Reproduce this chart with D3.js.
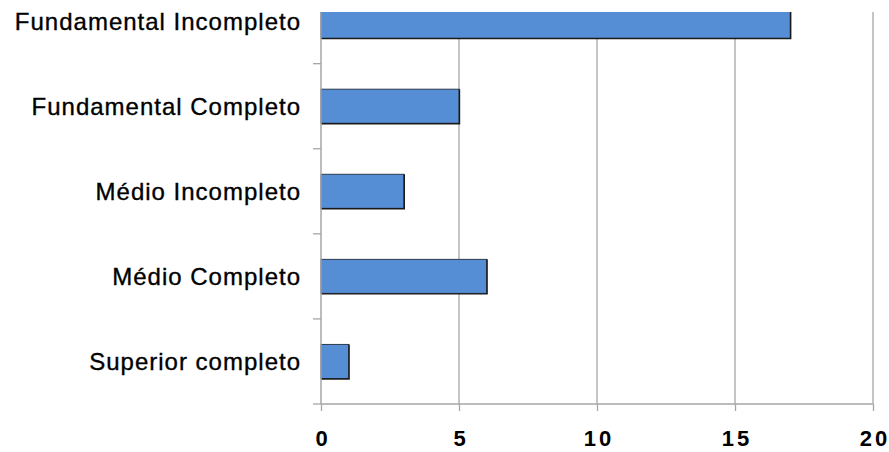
<!DOCTYPE html>
<html>
<head>
<meta charset="utf-8">
<script src="https://cdn.jsdelivr.net/npm/d3@7"></script>
<style>
html,body{margin:0;padding:0;background:#fff;}
svg{display:block;}
</style>
</head>
<body>
<script>
const categories = ["Fundamental Incompleto","Fundamental Completo","Médio Incompleto","Médio Completo","Superior completo"];
const values = [17,5,3,6,1];
const xTicks = [0,5,10,15,20];

const W = 889, H = 452;
const svg = d3.select("body").append("svg").attr("width",W).attr("height",H);

const x = d3.scaleLinear().domain([0,20]).range([321,873]);
const y = d3.scaleBand().domain(categories).range([-21.4,404]).padding(0);
const barH = y.step()*0.4;

svg.append("defs").append("clipPath").attr("id","plotclip")
  .append("rect").attr("x",0).attr("y",12).attr("width",W).attr("height",H-12);

const plot = svg.append("g").attr("clip-path","url(#plotclip)");
const gridColor = "#a6a6a6";

// gridlines
plot.selectAll("line.grid").data(xTicks.slice(1)).join("line")
  .attr("class","grid")
  .attr("x1",d=>x(d)).attr("x2",d=>x(d))
  .attr("y1",-21.4).attr("y2",404)
  .attr("stroke",gridColor).attr("stroke-width",1.3);

// bars
const bars = plot.selectAll("g.bar").data(categories).join("g").attr("class","bar");
bars.append("rect")
  .attr("x",x(0))
  .attr("y",(d)=>y(d)+y.bandwidth()/2-barH/2)
  .attr("width",(d,i)=>x(values[i])-x(0))
  .attr("height",barH)
  .attr("fill","#558ed5")
  .attr("stroke","#2c3a4e").attr("stroke-width",1);
bars.append("path")
  .attr("d",(d,i)=>{
    const x1 = x(values[i])+0.5, y0 = y(d)+y.bandwidth()/2-barH/2, y1 = y0+barH+0.5;
    return `M${x(0)},${y1}H${x1}V${y0}`;
  })
  .attr("fill","none").attr("stroke","#1a1a1a").attr("stroke-width",1.4);

// y axis
const yAxis = d3.axisLeft(y).tickSize(8).tickFormat("");
const yg = plot.append("g").attr("transform",`translate(${x(0)},0)`).call(yAxis);
yg.select(".domain").remove();
yg.selectAll(".tick").attr("transform",d=>`translate(0,${y(d)})`);
yg.selectAll(".tick line").attr("stroke",gridColor).attr("stroke-width",1.3);
yg.append("line").attr("x1",0).attr("x2",0).attr("y1",-21.4).attr("y2",404)
  .attr("stroke",gridColor).attr("stroke-width",1.5);
yg.append("line").attr("x1",-8).attr("x2",0).attr("y1",404).attr("y2",404)
  .attr("stroke",gridColor).attr("stroke-width",1.3);

// category labels
svg.append("g").selectAll("text").data(categories).join("text")
  .attr("x",301)
  .attr("y",d=>y(d)+y.bandwidth()/2)
  .attr("dy","0.35em")
  .attr("text-anchor","end")
  .attr("font-family","Liberation Sans, Arial, sans-serif")
  .attr("font-size",24)
  .attr("letter-spacing","1px")
  .attr("stroke","#000").attr("stroke-width",0.35)
  .attr("fill","#000")
  .text(d=>d);

// x axis
const xAxis = d3.axisBottom(x).tickValues(xTicks).tickSize(7).tickFormat(d3.format("d")).tickPadding(19);
const xg = svg.append("g").attr("transform","translate(0,404)").call(xAxis);
xg.select(".domain").remove();
xg.append("line").attr("x1",x(0)).attr("x2",x(20)).attr("y1",0).attr("y2",0)
  .attr("stroke",gridColor).attr("stroke-width",1.5);
xg.selectAll(".tick line").attr("stroke",gridColor).attr("stroke-width",1.3);
xg.selectAll(".tick text")
  .attr("font-family","Liberation Sans, Arial, sans-serif")
  .attr("font-size",22)
  .attr("font-weight","bold")
  .attr("letter-spacing","3px")
  .attr("fill","#000")
  .attr("dx","1.5px");
</script>
</body>
</html>
